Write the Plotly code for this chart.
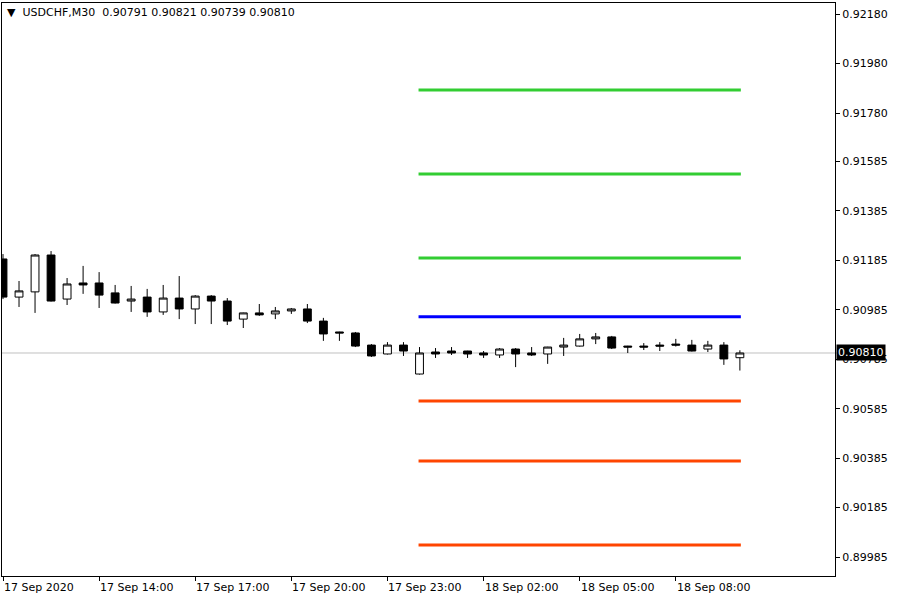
import plotly.graph_objects as go
import pandas as pd

# ---- data ----
bar_times = pd.date_range("2020-09-17 11:00", periods=47, freq="30min")

opens = [0.91190, 0.91036, 0.91057, 0.91206, 0.91028, 0.91093, 0.91093, 0.91053, 0.91020, 0.91036,
         0.90976, 0.91032, 0.90988, 0.91040, 0.91020, 0.90947, 0.90972, 0.90968, 0.90980, 0.90988,
         0.90939, 0.90895, 0.90891, 0.90842, 0.90806, 0.90842, 0.90725, 0.90814, 0.90818, 0.90818,
         0.90810, 0.90802, 0.90826, 0.90810, 0.90806, 0.90834, 0.90838, 0.90867, 0.90875, 0.90838,
         0.90838, 0.90842, 0.90846, 0.90842, 0.90826, 0.90842, 0.90791]
highs = [0.91210, 0.91101, 0.91210, 0.91222, 0.91113, 0.91162, 0.91137, 0.91085, 0.91081, 0.91069,
         0.91085, 0.91121, 0.91044, 0.91044, 0.91032, 0.90973, 0.91008, 0.90996, 0.90992, 0.91008,
         0.90952, 0.90896, 0.90895, 0.90846, 0.90854, 0.90854, 0.90834, 0.90830, 0.90834, 0.90819,
         0.90818, 0.90830, 0.90830, 0.90834, 0.90835, 0.90871, 0.90887, 0.90891, 0.90879, 0.90839,
         0.90850, 0.90854, 0.90867, 0.90863, 0.90859, 0.90854, 0.90821]
lows = [0.91028, 0.90996, 0.90972, 0.91018, 0.91004, 0.91049, 0.90992, 0.91010, 0.90976, 0.90956,
        0.90964, 0.90947, 0.90927, 0.90927, 0.90923, 0.90911, 0.90960, 0.90947, 0.90968, 0.90931,
        0.90859, 0.90859, 0.90834, 0.90794, 0.90804, 0.90798, 0.90723, 0.90790, 0.90802, 0.90790,
        0.90790, 0.90790, 0.90753, 0.90798, 0.90766, 0.90798, 0.90836, 0.90846, 0.90826, 0.90810,
        0.90822, 0.90818, 0.90836, 0.90816, 0.90814, 0.90762, 0.90739]
closes = [0.91036, 0.91061, 0.91206, 0.91020, 0.91089, 0.91085, 0.91044, 0.91012, 0.91028, 0.90976,
          0.91032, 0.90988, 0.91040, 0.91020, 0.90939, 0.90972, 0.90964, 0.90980, 0.90988, 0.90939,
          0.90887, 0.90891, 0.90838, 0.90798, 0.90842, 0.90818, 0.90810, 0.90806, 0.90810, 0.90806,
          0.90802, 0.90826, 0.90806, 0.90802, 0.90834, 0.90842, 0.90867, 0.90875, 0.90830, 0.90834,
          0.90834, 0.90838, 0.90842, 0.90818, 0.90842, 0.90786, 0.90810]

# daily pivot levels (R3, R2, R1, P, S1, S2, S3)
level_names = ["R3", "R2", "R1", "P", "S1", "S2", "S3"]
level_values = [0.91873, 0.91534, 0.91194, 0.90956, 0.90616, 0.90373, 0.90034]
level_colors = ["#32CD32", "#32CD32", "#32CD32", "#0000FF", "#FF4500", "#FF4500", "#FF4500"]

y_tick_labels = ["0.92180", "0.91980", "0.91780", "0.91585", "0.91385", "0.91185",
                 "0.90985", "0.90785", "0.90585", "0.90385", "0.90185", "0.89985"]
x_tick_labels = ["17 Sep 2020", "17 Sep 14:00", "17 Sep 17:00", "17 Sep 20:00",
                 "17 Sep 23:00", "18 Sep 02:00", "18 Sep 05:00", "18 Sep 08:00"]
x_tick_times = ["2020-09-17 11:00", "2020-09-17 14:00", "2020-09-17 17:00", "2020-09-17 20:00",
                "2020-09-17 23:00", "2020-09-18 02:00", "2020-09-18 05:00", "2020-09-18 08:00"]

symbol = "USDCHF,M30"
# ---- figure ----
x_idx = list(range(len(bar_times)))
time_to_idx = {t: i for i, t in enumerate(bar_times)}
x_tick_idx = [time_to_idx[pd.Timestamp(t)] for t in x_tick_times]

FONT = "DejaVu Sans"
fig = go.Figure()

fig.add_trace(go.Candlestick(
    x=x_idx, open=opens, high=highs, low=lows, close=closes,
    increasing=dict(line=dict(color="black", width=1), fillcolor="white"),
    decreasing=dict(line=dict(color="black", width=1), fillcolor="black"),
    whiskerwidth=0, showlegend=False, hoverinfo="skip",
))

day2_start = next(i for i, t in enumerate(bar_times) if t.day == 18)
last_idx = x_idx[-1]
for name, val, col in zip(level_names, level_values, level_colors):
    fig.add_trace(go.Scatter(
        x=[day2_start - 0.06, last_idx + 0.06], y=[val, val], mode="lines",
        line=dict(color=col, width=3), showlegend=False, hoverinfo="skip", name=name,
    ))

last_close = closes[-1]
fig.add_shape(type="line", xref="paper", x0=0, x1=1.004, yref="y", y0=last_close, y1=last_close,
              line=dict(color="#C0C0C0", width=1), layer="below")

tickvals_y = [float(s) for s in y_tick_labels]

fig.update_layout(
    width=900, height=600,
    margin=dict(l=2, r=65, t=3, b=24),
    paper_bgcolor="white", plot_bgcolor="white",
    font=dict(family=FONT, size=11, color="black"),
    showlegend=False,
    xaxis=dict(
        range=[-1/16, 52 - 1/16], showgrid=False, zeroline=False, rangeslider=dict(visible=False),
        tickmode="array", tickvals=x_tick_idx, showticklabels=False,
        ticks="outside", ticklen=4, tickcolor="black",
        showline=True, linecolor="black", linewidth=1, mirror=True,
    ),
    yaxis=dict(
        range=[0.899086, 0.922247], side="right", showgrid=False, zeroline=False,
        tickmode="array", tickvals=tickvals_y, ticktext=y_tick_labels,
        ticks="outside", ticklen=4, tickcolor="black",
        tickfont=dict(family=FONT, size=11, color="black"),
        showline=True, linecolor="black", linewidth=1, mirror=True,
    ),
)

for idx, lab in zip(x_tick_idx, x_tick_labels):
    fig.add_annotation(x=idx, xref="x", y=0, yref="paper", yanchor="top", xanchor="left",
                       text=lab, showarrow=False, yshift=-3, xshift=-1,
                       font=dict(family=FONT, size=11, color="black"))

fig.add_annotation(x=1, xref="paper", y=last_close, yref="y", xanchor="left", yanchor="middle",
                   text=f"{last_close:.5f}", showarrow=False, xshift=1,
                   bgcolor="black", borderpad=1,
                   font=dict(family=FONT, size=11, color="white"))

header = "▼\u00a0\u00a0" + symbol + "\u00a0\u00a0" + " ".join(
    f"{v:.5f}" for v in [opens[-1], highs[-1], lows[-1], closes[-1]])
fig.add_annotation(x=0, xref="paper", y=1, yref="paper", xanchor="left", yanchor="top",
                   text=header, showarrow=False, xshift=3, yshift=-1,
                   font=dict(family=FONT, size=11, color="black"))

fig.write_html("out.html", config={"displayModeBar": False},
               post_script="document.body.style.margin='0';document.body.style.overflow='hidden';")
